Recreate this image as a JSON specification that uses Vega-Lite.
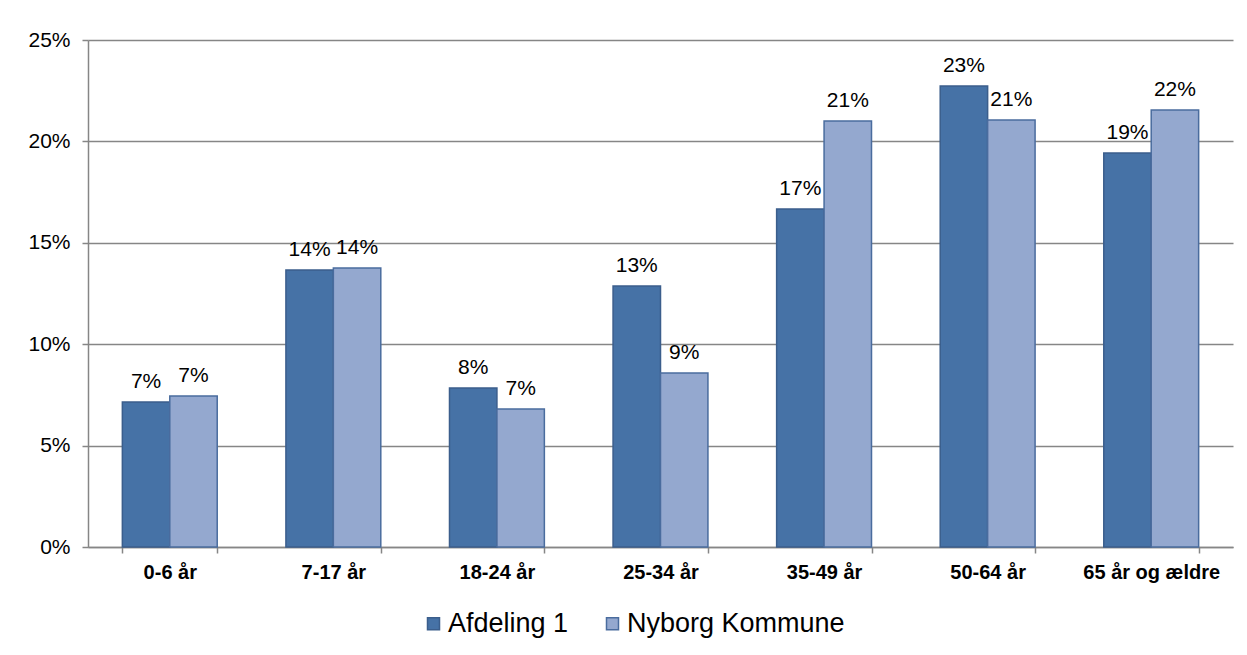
{
  "$schema": "https://vega.github.io/schema/vega-lite/v6.json",
  "width": 1145,
  "height": 507,
  "autosize": {"type": "none"},
  "padding": {"left": 88, "top": 40, "right": 14, "bottom": 108},
  "background": "white",
  "config": {
    "view": {"stroke": null},
    "font": "Liberation Sans"
  },
  "data": {
    "values": [
      {"alder": "0-6 år", "serie": "Afdeling 1", "andel": 0.0715},
      {"alder": "0-6 år", "serie": "Nyborg Kommune", "andel": 0.0745},
      {"alder": "7-17 år", "serie": "Afdeling 1", "andel": 0.1366},
      {"alder": "7-17 år", "serie": "Nyborg Kommune", "andel": 0.1376},
      {"alder": "18-24 år", "serie": "Afdeling 1", "andel": 0.0784},
      {"alder": "18-24 år", "serie": "Nyborg Kommune", "andel": 0.068},
      {"alder": "25-34 år", "serie": "Afdeling 1", "andel": 0.1287},
      {"alder": "25-34 år", "serie": "Nyborg Kommune", "andel": 0.0858},
      {"alder": "35-49 år", "serie": "Afdeling 1", "andel": 0.1667},
      {"alder": "35-49 år", "serie": "Nyborg Kommune", "andel": 0.2100},
      {"alder": "50-64 år", "serie": "Afdeling 1", "andel": 0.2273},
      {"alder": "50-64 år", "serie": "Nyborg Kommune", "andel": 0.2106},
      {"alder": "65 år og ældre", "serie": "Afdeling 1", "andel": 0.1943},
      {"alder": "65 år og ældre", "serie": "Nyborg Kommune", "andel": 0.2155}
    ]
  },
  "encoding": {
    "x": {
      "field": "alder",
      "type": "nominal",
      "sort": null,
      "scale": {"paddingInner": 0.42, "paddingOuter": 0.21},
      "axis": {
        "title": null,
        "labelAngle": 0,
        "labelFont": "Liberation Sans",
        "labelFontSize": 20,
        "labelFontWeight": "bold",
        "labelColor": "#000000",
        "labelPadding": 9,
        "labelLimit": 300,
        "domainColor": "#868686",
        "domainWidth": 1.5,
        "tickColor": "#868686",
        "tickWidth": 1.5,
        "tickBand": "extent",
        "tickSize": 6,
        "grid": false
      }
    },
    "xOffset": {"field": "serie", "type": "nominal", "sort": ["Afdeling 1", "Nyborg Kommune"]},
    "y": {
      "field": "andel",
      "type": "quantitative",
      "scale": {"domain": [0, 0.25], "nice": false},
      "axis": {
        "title": null,
        "format": ".0%",
        "values": [0, 0.05, 0.1, 0.15, 0.2, 0.25],
        "labelFont": "Liberation Sans",
        "labelFontSize": 21,
        "labelColor": "#000000",
        "labelPadding": 12,
        "domainColor": "#868686",
        "domainWidth": 1.5,
        "tickColor": "#868686",
        "tickWidth": 1.5,
        "tickSize": 6,
        "gridColor": "#868686",
        "gridWidth": 1.5
      }
    }
  },
  "layer": [
    {
      "mark": {"type": "bar", "strokeWidth": 1.5},
      "encoding": {
        "color": {
          "field": "serie",
          "type": "nominal",
          "scale": {"domain": ["Afdeling 1", "Nyborg Kommune"], "range": ["#4672A6", "#94A8CF"]},
          "legend": {
            "title": null,
            "orient": "none",
            "direction": "horizontal",
            "legendX": 332,
            "legendY": 570,
            "labelFont": "Liberation Sans",
            "labelFontSize": 27,
            "labelColor": "#000000",
            "labelLimit": 400,
            "symbolType": "square",
            "symbolSize": 144,
            "symbolStrokeColor": "#3B5E8C",
            "symbolStrokeWidth": 1.5,
            "labelOffset": 1,
            "columnPadding": 30
          }
        },
        "stroke": {
          "field": "serie",
          "type": "nominal",
          "scale": {"domain": ["Afdeling 1", "Nyborg Kommune"], "range": ["#3B5E8C", "#4A6C9E"]},
          "legend": null
        }
      }
    },
    {
      "mark": {"type": "text", "baseline": "alphabetic", "dy": -14, "fontSize": 21, "font": "Liberation Sans", "color": "#000000"},
      "encoding": {
        "text": {"field": "andel", "type": "quantitative", "format": ".0%"}
      }
    }
  ]
}
